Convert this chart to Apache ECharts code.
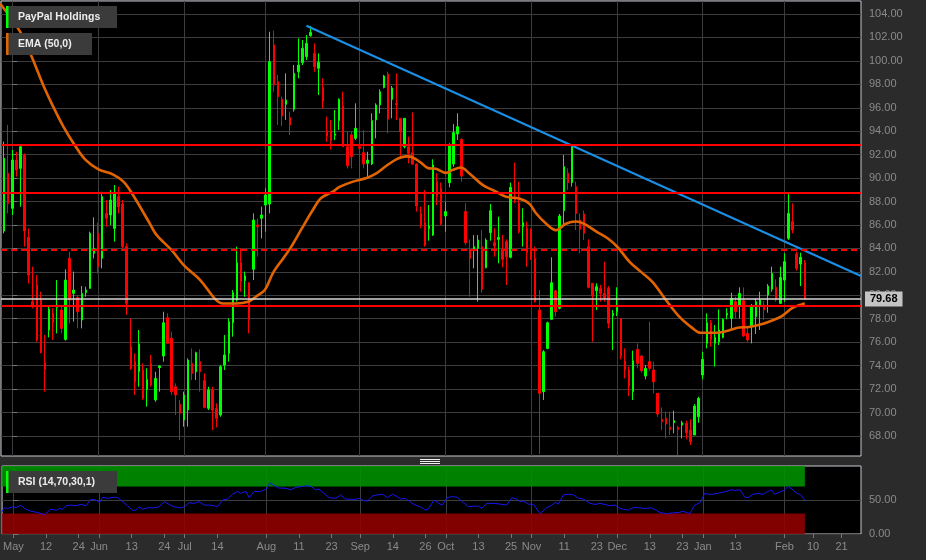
<!DOCTYPE html>
<html><head><meta charset="utf-8">
<script src="https://cdn.jsdelivr.net/npm/echarts@6/dist/echarts.min.js"></script>
<style>html,body{margin:0;padding:0;background:#2b2b2b;}#c{width:926px;height:560px;}</style>
</head><body><div id="c"></div>
<script>
// ---------- DATA ----------
const firstDay = -3; // trading-day index of first candle (0 = 2 May)
const opens = [80.0,85.49,90.41,87.42,91.54,90.83,91.97,84.95,79.46,80.88,79.60,74.25,77.04,78.46,78.97,78.75,76.24,83.15,80.17,79.80,77.89,80.22,80.59,83.58,85.29,83.15,86.99,86.85,85.71,88.42,87.79,84.15,75.62,74.34,73.48,73.63,71.98,74.19,71.07,73.83,74.82,78.09,76.33,72.20,70.70,69.36,70.21,74.19,73.48,74.34,72.72,70.36,71.92,70.36,69.79,74.05,75.05,77.66,79.60,82.78,81.25,81.08,82.22,86.00,86.57,87.70,87.79,101.36,98.23,96.72,96.29,95.18,95.87,99.08,99.85,100.36,102.15,100.64,99.37,97.72,94.05,94.05,93.65,94.90,96.18,92.68,93.68,93.39,92.68,92.17,91.26,91.20,94.96,96.24,97.72,98.88,96.72,96.38,95.10,92.68,92.68,92.17,91.20,86.99,86.20,85.68,85.14,89.70,89.13,86.77,89.61,91.20,93.76,93.31,87.14,83.92,83.92,84.01,84.15,82.36,85.34,84.49,84.77,83.92,84.58,83.24,88.42,87.85,85.86,85.71,85.57,83.15,78.75,71.78,75.47,77.95,80.39,78.89,87.22,90.41,89.61,89.27,86.42,86.94,84.15,81.02,80.39,80.59,80.17,80.59,78.26,78.60,78.03,74.39,73.63,71.78,75.39,74.82,73.11,74.34,73.63,71.64,69.42,69.50,68.73,69.13,68.73,68.93,69.08,68.51,68.08,69.64,73.20,75.90,77.66,75.90,76.04,76.41,78.32,78.03,79.46,79.09,79.54,76.75,77.32,78.18,79.09,79.17,80.02,80.51,80.68,79.31,81.30,84.86,86.28,83.52,82.67,82.78];
const closes = [85.0,91.69,87.85,91.54,90.69,92.68,85.49,81.73,79.17,76.19,75.10,73.68,78.80,77.66,79.17,77.18,81.30,79.60,80.45,78.60,80.17,80.45,85.29,84.01,82.44,88.42,86.57,88.13,88.70,87.56,84.15,79.31,73.77,72.63,75.84,71.21,72.83,72.35,72.91,73.97,77.66,75.90,71.78,71.49,69.93,71.49,74.48,73.34,75.10,73.48,70.44,71.92,70.21,69.50,73.91,74.91,77.75,80.22,82.78,81.16,81.65,77.95,86.42,85.86,86.85,88.56,99.93,97.94,96.95,95.30,96.66,94.53,98.94,99.65,101.07,101.50,102.44,99.51,99.88,96.58,93.59,93.19,93.76,96.72,92.68,91.06,91.83,94.25,92.54,91.20,91.54,94.90,96.24,97.37,98.71,95.04,97.69,96.27,93.96,95.10,92.11,91.20,87.62,86.00,84.29,85.91,91.12,88.42,86.08,87.14,92.74,93.88,94.39,90.18,84.49,83.15,84.15,84.72,80.51,84.72,87.22,84.21,84.95,83.07,83.30,89.21,88.13,85.43,86.20,83.64,83.15,79.46,71.64,75.19,77.66,81.08,78.60,86.77,90.97,89.61,92.68,86.99,85.63,85.29,80.68,79.94,80.74,80.17,79.74,77.61,78.46,78.97,74.82,73.63,72.26,74.42,74.19,73.57,73.77,73.77,72.63,69.87,69.22,69.02,68.56,69.30,68.56,69.13,68.28,67.51,70.55,71.21,74.54,77.66,76.24,76.41,77.04,77.95,78.46,79.74,78.60,80.17,76.53,76.19,79.09,79.46,79.60,78.75,80.79,81.87,79.65,81.53,82.87,86.99,85.57,82.30,83.24,79.68];
const lows = [79.9,85.29,86.99,86.85,90.12,87.56,84.15,81.02,78.89,76.04,75.05,71.78,76.41,76.19,76.75,76.75,76.13,77.61,77.75,77.18,77.18,79.88,80.59,83.15,81.87,82.30,85.86,86.00,84.58,86.99,84.01,78.32,73.63,71.49,72.20,71.07,70.50,72.20,70.92,71.78,74.34,75.90,71.49,69.79,67.65,68.79,68.79,72.77,72.77,71.78,70.36,70.21,68.51,68.73,69.64,73.63,74.34,76.47,79.46,80.31,79.88,76.75,81.30,83.30,84.86,85.43,86.99,97.37,94.53,94.44,94.96,93.68,95.67,98.51,99.65,100.08,102.07,99.08,97.09,95.95,93.11,92.45,93.25,94.10,92.68,90.83,90.83,93.25,89.84,90.83,90.12,91.12,93.39,95.53,97.66,93.82,95.10,94.96,91.83,92.54,91.26,91.12,87.14,85.71,84.15,84.66,85.06,87.70,86.00,85.43,89.21,90.97,93.25,89.70,84.29,79.88,82.30,79.46,80.22,82.30,84.66,83.30,82.73,82.39,80.88,83.15,87.85,85.29,84.15,82.44,83.01,79.37,66.46,71.07,75.39,77.89,78.18,78.80,86.00,88.98,89.27,85.57,83.58,84.72,80.59,76.04,78.75,79.46,79.46,77.18,75.33,78.23,74.54,72.91,71.41,71.07,73.77,73.40,72.83,73.57,71.64,69.64,68.51,67.80,68.08,68.22,66.37,67.80,67.71,67.23,68.08,69.13,72.83,75.47,75.62,73.91,75.76,76.33,77.95,77.10,78.03,78.03,76.47,76.04,75.90,76.70,77.04,77.89,78.52,80.31,79.46,79.26,79.46,84.72,85.29,82.10,80.79,79.65];
const highs = [88.0,93.11,94.53,92.40,92.25,92.82,92.11,85.71,82.44,81.73,80.31,76.61,79.03,78.89,81.30,79.17,82.22,83.72,82.02,80.02,80.79,80.74,85.43,86.65,86.20,88.84,88.13,88.98,89.41,89.27,88.13,84.43,78.03,75.05,77.04,74.19,73.77,74.91,73.48,74.05,78.60,78.46,76.90,72.49,71.07,71.78,74.62,75.47,75.19,75.39,73.34,72.20,72.20,70.78,74.05,76.61,78.03,80.45,84.15,84.01,82.02,81.08,86.99,86.57,87.56,89.13,102.49,102.58,98.80,96.95,98.94,95.67,99.65,101.92,101.78,102.21,102.98,101.50,100.64,98.51,95.24,94.96,95.81,96.81,97.37,93.96,93.96,96.38,94.10,94.10,92.25,95.53,96.38,97.57,98.80,99.08,97.86,98.94,95.10,95.10,93.53,95.61,91.26,87.56,88.98,87.70,91.60,90.41,89.61,87.99,92.97,94.61,95.53,93.39,87.85,84.77,85.14,85.14,85.57,84.86,87.79,85.71,86.71,85.14,84.77,89.61,91.32,89.70,87.42,86.28,85.71,84.15,80.45,75.33,77.75,83.24,80.45,86.94,91.97,90.83,92.82,89.70,86.99,87.22,84.77,81.02,81.02,80.88,82.87,80.79,78.75,80.68,78.03,75.47,73.91,75.28,75.90,74.91,74.05,77.75,74.34,71.64,70.44,70.07,70.07,70.16,68.85,69.30,69.30,69.42,70.72,71.35,75.19,78.46,77.89,77.47,78.80,78.03,78.89,80.22,79.88,80.68,80.68,77.32,79.26,79.74,80.31,79.54,80.96,82.44,81.36,82.44,83.58,88.64,87.85,83.72,83.64,83.01];

const emaDay = [-3,1.9,4.7,7.6,10.0,12.5,15.3,17.8,21.1,24.7,27.2,29.2,33.7,35.3,39.0,41.9,46.0,49.6,51.6,54.8,57.7,59.7,61.8,63.8,66.3,68.3,70.7,73.6,75.6,78.5,80.1,83.4,86.7,89.1,91.6,94.0,96.5,98.1,100.1,101.8,103.7,106.2,107.8,109.8,111.9,115.2,118.4,120.9,124.1,126.6,128.2,130.7,133.1,135.5,138.0,140.0,142.9,145.8,148.2,151.1,153.9,156.7,160.0,163.2,166.5,168.5,172.2,175.4,177.9,180.3,183.6,186.0,188.5,190.9,193.4,194.0];
const emaVal = [104.9,102.5,100.4,97.9,96.1,94.4,92.8,91.6,90.75,90.3,89.7,88.75,86.1,85.15,83.85,82.6,81.3,79.7,79.3,79.3,79.45,79.9,80.45,81.9,83.15,84.15,85.6,87.3,88.3,88.85,89.25,89.7,90.0,90.4,91.05,91.6,91.85,91.75,91.3,90.85,90.8,90.45,90.7,90.9,90.4,89.4,88.85,88.4,88.25,87.8,87.0,86.1,85.55,86.1,86.3,86.1,85.45,84.85,84.1,82.85,82.0,81.15,79.6,78.2,77.2,76.8,76.8,77.0,77.25,77.3,77.55,77.85,78.25,78.9,79.25,79.3];

const rsiDay = [-3.0,-2.2,-1.4,-0.2,0.7,1.9,2.7,4.3,6.0,7.6,8.0,9.2,10.5,11.3,12.1,12.9,14.1,15.3,16.6,17.8,19.0,20.2,21.1,21.9,23.1,24.7,25.6,26.8,28.0,29.2,30.0,30.8,31.7,32.9,34.5,35.7,37.0,38.2,39.4,41.1,41.9,43.1,44.3,45.5,46.8,48.0,49.2,50.0,51.3,52.5,53.7,54.9,55.7,57.0,57.8,59.0,60.6,61.9,62.9,63.9,65.1,66.3,67.2,68.0,69.2,70.4,71.7,72.9,74.1,74.9,76.1,77.4,78.6,79.4,80.2,81.4,82.7,83.9,84.7,85.9,86.8,88.0,89.2,90.4,91.7,92.9,94.1,94.9,96.1,97.4,98.6,99.8,101.0,101.8,103.1,104.3,105.1,106.3,107.6,108.8,110.3,111.6,112.8,114.0,114.8,116.0,117.7,119.3,120.9,122.2,123.4,124.2,125.0,126.2,127.5,129.1,130.7,132.0,132.8,133.6,134.8,136.0,137.3,138.5,139.7,141.3,142.6,143.8,144.6,146.2,147.5,148.7,149.5,150.7,152.0,153.6,154.8,156.4,157.6,158.5,160.1,161.7,163.0,164.2,165.0,165.8,167.0,168.3,169.5,170.3,171.5,172.8,174.0,175.2,176.0,176.9,178.1,179.3,180.1,181.3,182.5,183.8,184.6,185.8,186.6,187.8,189.1,189.9,191.1,191.9,192.8,194.0];
const rsiVal = [31.5,38.5,37.5,40.0,39.0,42.5,37.5,33.5,31.5,28.5,30.0,36.5,35.0,37.5,36.5,41.5,42.5,41.5,43.5,41.5,51.0,50.0,46.5,54.0,52.5,54.0,53.5,47.5,41.5,35.0,35.0,40.0,36.5,38.5,38.5,40.0,47.5,43.5,40.0,38.5,40.0,46.0,45.0,47.5,42.5,42.5,41.5,40.0,50.0,51.5,58.5,62.5,60.0,62.5,53.5,62.5,62.5,66.0,75.0,71.5,67.5,67.5,66.5,65.0,68.5,69.5,71.0,70.0,65.0,66.0,60.0,53.5,52.5,53.5,57.5,51.5,51.0,51.0,52.5,49.0,48.5,56.0,57.5,58.5,53.5,58.5,55.0,51.5,52.5,46.5,42.5,40.0,35.0,37.5,50.0,45.0,42.5,53.5,55.0,54.0,46.0,40.0,41.0,41.0,37.5,45.0,45.0,44.0,42.5,53.5,51.5,47.5,48.5,44.0,43.5,30.0,38.5,42.5,46.5,44.0,57.5,58.5,57.5,52.5,51.5,45.0,43.5,45.0,44.0,41.5,42.5,37.5,36.5,35.0,39.0,38.5,37.5,38.5,35.0,31.5,30.0,31.0,31.5,33.5,31.5,30.0,42.5,46.0,60.0,58.5,58.5,60.0,61.5,63.5,65.0,64.0,65.0,54.0,53.5,58.5,59.5,58.5,61.5,65.0,58.5,61.5,65.0,70.0,65.0,60.0,58.5,50.0];

const tickDays = [0,8,16,21,29,37,42,50,62,70,78,85,93,101,106,114,122,127,135,143,148,156,164,169,177,189,196,203];
const tickText = ['May','12','24','Jun','13','24','Jul','14','Aug','11','23','Sep','14','26','Oct','13','25','Nov','11','23','Dec','13','23','Jan','13','Feb','10','21'];
const monthDays = [0,21,42,62,85,106,127,148,169,189];
const priceTicks = [68,70,72,74,76,78,80,82,84,86,88,90,92,94,96,98,100,102,104];
const rsiTicks = [0,50];
const solidLevels = [92.85,88.75,79.1];
const dashedLevels = [83.88];
const trendDays = [72,207.76];
const trendVals = [103.0,81.65];
const rsiBands = [[70,100],[0,30]];

// ---------- CHART ----------
const FONT = '"Liberation Sans", Arial, sans-serif';
const GRIDC = '#3d3d3d', LABELC = '#8a8a8a', BORDERC = '#c8c8d2';
const xMin = -2.77, xMax = 207.76;
const lastDay = firstDay + closes.length - 1;
const lastClose = closes[closes.length - 1];

const candleData = opens.map((o, k) => [firstDay + k, o, closes[k], lows[k], highs[k]]);
const emaData = emaDay.map((d, k) => [d, emaVal[k]]);
const rsiData = rsiDay.map((d, k) => [d, rsiVal[k]]);
const trendData = trendDays.map((d, k) => [d, trendVals[k]]);

const levelLines = solidLevels.map(v => ({yAxis: v, lineStyle: {color: '#ff0000', width: 2, type: 'solid'}}))
  .concat(dashedLevels.map(v => ({yAxis: v, lineStyle: {color: '#ff0000', width: 2, type: [6, 4]}})))
  .concat([{yAxis: lastClose, lineStyle: {color: '#d6d6d6', width: 1.5, type: 'solid'},
    label: {show: true, position: 'end', distance: 4, formatter: lastClose.toFixed(2),
      backgroundColor: '#c4c4c4', color: '#000', fontFamily: FONT, fontSize: 11, fontWeight: 'bold',
      lineHeight: 13, padding: [1, 5, 1, 5]}}]);

const chart = echarts.init(document.getElementById('c'), null, {renderer: 'canvas'});
chart.setOption({
  animation: false,
  backgroundColor: '#2b2b2b',
  grid: [
    {left: 1, right: 65, top: 1, height: 455, show: true, backgroundColor: '#000', borderColor: BORDERC, borderWidth: 1},
    {left: 1, right: 65, top: 466, height: 68, show: true, backgroundColor: '#000', borderColor: BORDERC, borderWidth: 1}
  ],
  xAxis: [
    {gridIndex: 0, type: 'value', min: xMin, max: xMax, axisLine: {show: false}, axisLabel: {show: false},
      axisTick: {show: false, customValues: monthDays}, splitLine: {show: true, lineStyle: {color: GRIDC, width: 1}}},
    {gridIndex: 1, type: 'value', min: xMin, max: xMax, position: 'bottom', axisLine: {show: false},
      axisTick: {show: true, customValues: tickDays, length: 4, lineStyle: {color: '#777'}},
      axisLabel: {show: true, customValues: tickDays, margin: 7, color: LABELC, fontFamily: FONT, fontSize: 11,
        formatter: v => tickText[tickDays.indexOf(Math.round(v))] || ''},
      splitLine: {show: false}},
    {gridIndex: 1, type: 'value', min: xMin, max: xMax, position: 'top', axisLine: {show: false}, axisLabel: {show: false},
      axisTick: {show: false, customValues: monthDays}, splitLine: {show: true, lineStyle: {color: GRIDC, width: 1}}}
  ],
  yAxis: [
    {gridIndex: 0, type: 'value', position: 'right', min: 66.29, max: 105.11, axisLine: {show: false},
      axisTick: {show: true, customValues: priceTicks, length: 5, lineStyle: {color: '#777'}},
      axisLabel: {show: true, customValues: priceTicks, margin: 8, color: LABELC, fontFamily: FONT, fontSize: 11,
        formatter: v => v.toFixed(2)},
      splitLine: {show: true, lineStyle: {color: GRIDC, width: 1}}},
    {gridIndex: 1, type: 'value', position: 'right', min: 0, max: 100, axisLine: {show: false},
      axisTick: {show: true, customValues: rsiTicks, length: 5, lineStyle: {color: '#777'}},
      axisLabel: {show: true, customValues: rsiTicks, margin: 8, color: LABELC, fontFamily: FONT, fontSize: 11,
        formatter: v => v.toFixed(2)},
      splitLine: {show: true, lineStyle: {color: GRIDC, width: 1}}}
  ],
  series: [
    {type: 'candlestick', xAxisIndex: 0, yAxisIndex: 0, data: candleData, barWidth: 2, clip: true, z: 3,
      itemStyle: {color: '#00ff00', color0: '#ff0000', borderColor: '#00ff00', borderColor0: '#ff0000', borderWidth: 1}},
    {type: 'line', xAxisIndex: 0, yAxisIndex: 0, data: emaData, smooth: 0.35, showSymbol: false, clip: true, z: 4,
      lineStyle: {color: '#e26400', width: 2.6}},
    {type: 'line', xAxisIndex: 0, yAxisIndex: 0, data: trendData, showSymbol: false, clip: true, z: 5,
      lineStyle: {color: '#1a8fe6', width: 2},
      markLine: {silent: true, symbol: 'none', label: {show: false}, data: levelLines, z: 6}},
    {type: 'line', xAxisIndex: 1, yAxisIndex: 1, data: rsiData, showSymbol: false, clip: true, z: 5,
      lineStyle: {color: '#1717f0', width: 1},
      markArea: {silent: true, data: [
        [{xAxis: xMin, yAxis: rsiBands[0][0], itemStyle: {color: 'rgba(0,143,0,0.9)'}}, {xAxis: lastDay, yAxis: rsiBands[0][1]}],
        [{xAxis: xMin, yAxis: rsiBands[1][0], itemStyle: {color: 'rgba(143,0,0,0.9)'}}, {xAxis: lastDay, yAxis: rsiBands[1][1]}]
      ]}}
  ],
  graphic: [
    {type: 'rect', shape: {x: 6, y: 6, width: 111, height: 22}, style: {fill: '#3b3b3b'}, z: 100},
    {type: 'rect', shape: {x: 6, y: 6, width: 2.5, height: 22}, style: {fill: '#00ff00'}, z: 101},
    {type: 'text', x: 18, y: 17, style: {text: 'PayPal Holdings', fill: '#ececec', font: 'bold 10.5px ' + FONT, verticalAlign: 'middle'}, z: 101},
    {type: 'rect', shape: {x: 6, y: 33, width: 86, height: 22}, style: {fill: '#3b3b3b'}, z: 100},
    {type: 'rect', shape: {x: 6, y: 33, width: 2.5, height: 22}, style: {fill: '#e26400'}, z: 101},
    {type: 'text', x: 18, y: 44, style: {text: 'EMA (50,0)', fill: '#ececec', font: 'bold 10.5px ' + FONT, verticalAlign: 'middle'}, z: 101},
    {type: 'rect', shape: {x: 6, y: 471, width: 111, height: 22}, style: {fill: '#3b3b3b'}, z: 100},
    {type: 'rect', shape: {x: 6, y: 471, width: 2.5, height: 22}, style: {fill: '#00ff00'}, z: 101},
    {type: 'text', x: 18, y: 482, style: {text: 'RSI (14,70,30,1)', fill: '#ececec', font: 'bold 10.5px ' + FONT, verticalAlign: 'middle'}, z: 101},
    {type: 'line', shape: {x1: 420, y1: 459.5, x2: 440, y2: 459.5}, style: {stroke: '#f0f0f0', lineWidth: 1}, z: 101},
    {type: 'line', shape: {x1: 420, y1: 461.5, x2: 440, y2: 461.5}, style: {stroke: '#f0f0f0', lineWidth: 1}, z: 101},
    {type: 'line', shape: {x1: 420, y1: 463.5, x2: 440, y2: 463.5}, style: {stroke: '#f0f0f0', lineWidth: 1}, z: 101}
  ]
});
</script></body></html>
